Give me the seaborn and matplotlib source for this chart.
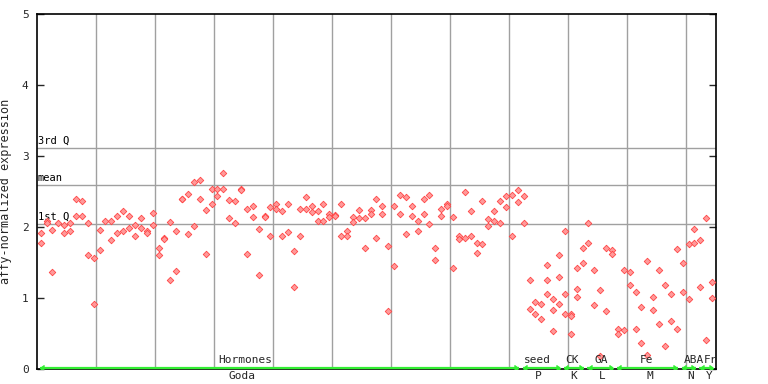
import matplotlib
matplotlib.use("Agg")
import matplotlib.pyplot as plt
import seaborn as sns
import pandas as pd

# ==== data ====
sample_idx = [
    0, 0, 1, 1, 2, 2, 3, 4, 4, 5, 5, 6, 6, 7, 7, 8, 8, 9, 9, 10, 10, 11, 12, 12,
    13, 13, 14, 14, 15, 15, 16, 16, 17, 17, 18, 18, 19, 19, 20, 20, 21, 21,
    22, 22, 23, 23, 24, 24, 25, 25, 26, 26, 27, 27, 28, 28, 29, 29, 30, 30,
    31, 31, 32, 32, 33, 33, 34, 34, 35, 35, 36, 36, 37, 37, 38, 38, 39, 39,
    40, 40, 41, 41, 42, 42, 43, 43, 44, 44, 45, 45, 46, 46, 47, 47, 48, 48,
    49, 49, 50, 50, 51, 51, 52, 52, 53, 53, 54, 54, 55, 55, 56, 56, 57, 57,
    58, 58, 59, 59, 60, 60, 61, 61, 62, 62, 63, 63, 64, 64, 65, 65, 66, 66,
    67, 67, 68, 68, 69, 69, 70, 70, 71, 71, 72, 72, 73, 73, 74, 74, 75, 75,
    76, 76, 77, 77, 78, 78, 79, 79, 80, 80, 81, 81, 82, 82,
    83, 83, 84, 84, 85, 85, 86, 86, 86, 87, 87, 87, 88, 88, 88, 89, 89, 89,
    90, 90, 90, 91, 91, 91, 92, 92, 93, 93, 94, 94, 95, 95, 96, 96, 97, 97,
    98, 98, 99, 99, 100, 100, 101, 101, 102, 102, 103, 103, 104, 104,
    105, 105, 106, 106, 107, 107, 108, 108, 109, 109, 110, 110, 111, 111,
    112, 112, 113, 113, 114, 114,
]
expression = [
    1.91, 1.78, 2.08, 2.05, 1.96, 1.36, 2.06, 2.03, 1.91, 2.06, 1.94, 2.40, 2.15,
    2.36, 2.16, 2.06, 1.60, 1.56, 0.92, 1.96, 1.68, 2.08, 2.08, 1.81,
    2.16, 1.92, 2.22, 1.94, 2.15, 1.99, 2.03, 1.88, 2.13, 1.98, 1.95, 1.92,
    2.20, 2.03, 1.71, 1.60, 1.85, 1.83,
    2.07, 1.26, 1.95, 1.38, 2.40, 2.39, 2.46, 1.90, 2.63, 2.02, 2.66, 2.40,
    2.24, 1.62, 2.53, 2.33, 2.54, 2.43,
    2.76, 2.54, 2.38, 2.12, 2.36, 2.05, 2.54, 2.52, 2.25, 1.62, 2.29, 2.14,
    1.97, 1.32, 2.15, 2.14, 2.28, 1.87,
    2.32, 2.25, 2.22, 1.87, 2.33, 1.93, 1.66, 1.15, 2.26, 1.88, 2.42, 2.25,
    2.30, 2.21, 2.23, 2.08, 2.33, 2.08,
    2.18, 2.14, 2.17, 2.16, 2.32, 1.87, 1.95, 1.87, 2.14, 2.07, 2.24, 2.12,
    2.12, 1.70, 2.24, 2.19, 2.39, 1.84,
    2.29, 2.19, 1.73, 0.81, 2.30, 1.45, 2.45, 2.19, 2.42, 1.90, 2.30, 2.15,
    2.09, 1.94, 2.39, 2.19, 2.45, 2.04,
    1.71, 1.54, 2.25, 2.15, 2.32, 2.29, 2.14, 1.42, 1.88, 1.83, 2.50, 1.85,
    2.23, 1.87, 1.78, 1.64, 2.36, 1.76,
    2.11, 2.02, 2.23, 2.09, 2.36, 2.05, 2.43, 2.28, 2.45, 1.88, 2.52, 2.35,
    2.43, 2.05,
    1.25, 0.85, 0.95, 0.77, 0.91, 0.70, 1.46, 1.25, 1.05, 0.99, 0.83, 0.54,
    1.60, 1.29, 0.92, 1.95, 1.05, 0.77,
    0.77, 0.74, 0.50, 1.42, 1.12, 1.02, 1.71, 1.50, 2.06, 1.77, 1.40, 0.90,
    1.11, 0.18, 1.70, 0.81, 1.67, 1.62,
    0.57, 0.50, 1.39, 0.55, 1.36, 1.19, 1.09, 0.56, 0.88, 0.36, 1.52, 0.20,
    1.02, 0.83,
    1.39, 0.64, 1.18, 0.33, 1.05, 0.67, 1.69, 0.56, 1.49, 1.09, 1.76, 0.98,
    1.97, 1.78,
    1.82, 1.15, 2.12, 0.41, 1.22, 1.00,
]

# summary lines
stat_names = ["3rd Q", "mean", "1st Q"]
stat_values = [3.11, 2.59, 2.04]

# experiment groups: (first sample, last sample)
group_top = ["Hormones", "seed", "CK", "GA", "Fe", "ABA", "Fr"]
group_bottom = ["Goda", "P", "K", "L", "M", "N", "Y"]
group_start = [0, 82, 89, 93, 98, 109, 112]
group_end = [81, 88, 92, 97, 108, 111, 114]

df = pd.DataFrame({"sample": sample_idx, "expr": expression})

# ==== plot ====
sns.set_style("white")
plt.rcParams["font.family"] = ["DejaVu Sans Mono"]

fig = plt.figure(figsize=(7.68, 3.84), dpi=100)
ax = fig.add_axes([37 / 768, 15 / 384, 679 / 768, 355 / 384])

step = 5.89  # px per sample in the original
x0 = -3.7 / step
x1 = x0 + 679 / step
ax.set_xlim(x0, x1)
ax.set_ylim(0, 5)

# grid
for k in range(1, 12):
    ax.axvline(x0 + k * 59 / step, color="#a0a0a0", lw=1, zorder=1)
for name, v in zip(stat_names, stat_values):
    ax.axhline(v, color="#a0a0a0", lw=1, zorder=1)
    ax.text(x0 + 0.1, v + 0.03, name, fontsize=7.5, va="bottom", ha="left",
            color="black")

sns.scatterplot(data=df, x="sample", y="expr", ax=ax, marker="D", s=11,
                color="#ff9a9a", edgecolor="#ff4444", linewidth=0.6,
                legend=False, zorder=3)

# group bars along the bottom
for s, e in zip(group_start, group_end):
    ax.plot([s - 0.2, e + 0.2], [0.015, 0.015], color="#33ee33", lw=1.6,
            solid_capstyle="butt", zorder=4, clip_on=False)
    ax.plot([s - 0.1], [0.015], marker=4, color="#33ee33", ms=4, zorder=4)
    ax.plot([e + 0.1], [0.015], marker=5, color="#33ee33", ms=4, zorder=4)

top_x = [34.7, 84.3, 90.2, 95.1, 102.9, 110.9, 113.7]
bot_x = [34.2, 84.4, 90.5, 95.3, 103.4, 110.4, 113.5]
for name, xx in zip(group_top, top_x):
    ax.text(xx, 0.05, name, fontsize=8, ha="center", va="bottom",
            clip_on=False, zorder=5)
for name, xx in zip(group_bottom, bot_x):
    ax.text(xx, -0.006, name, fontsize=8, ha="center", va="top",
            transform=ax.get_xaxis_transform(), clip_on=False)

ax.set_xticks([])
ax.set_yticks(range(0, 6))
ax.tick_params(axis="y", direction="in", length=5, width=1, labelsize=8,
               left=True, right=True, pad=6)
ax.set_ylabel("affy-normalized expression", fontsize=8.5)
ax.yaxis.set_label_coords(-25 / 679, 0.5)
ax.set_xlabel("")
for sp in ax.spines.values():
    sp.set_color("black")
    sp.set_linewidth(1.2)

plt.savefig("out.png", dpi=100)
